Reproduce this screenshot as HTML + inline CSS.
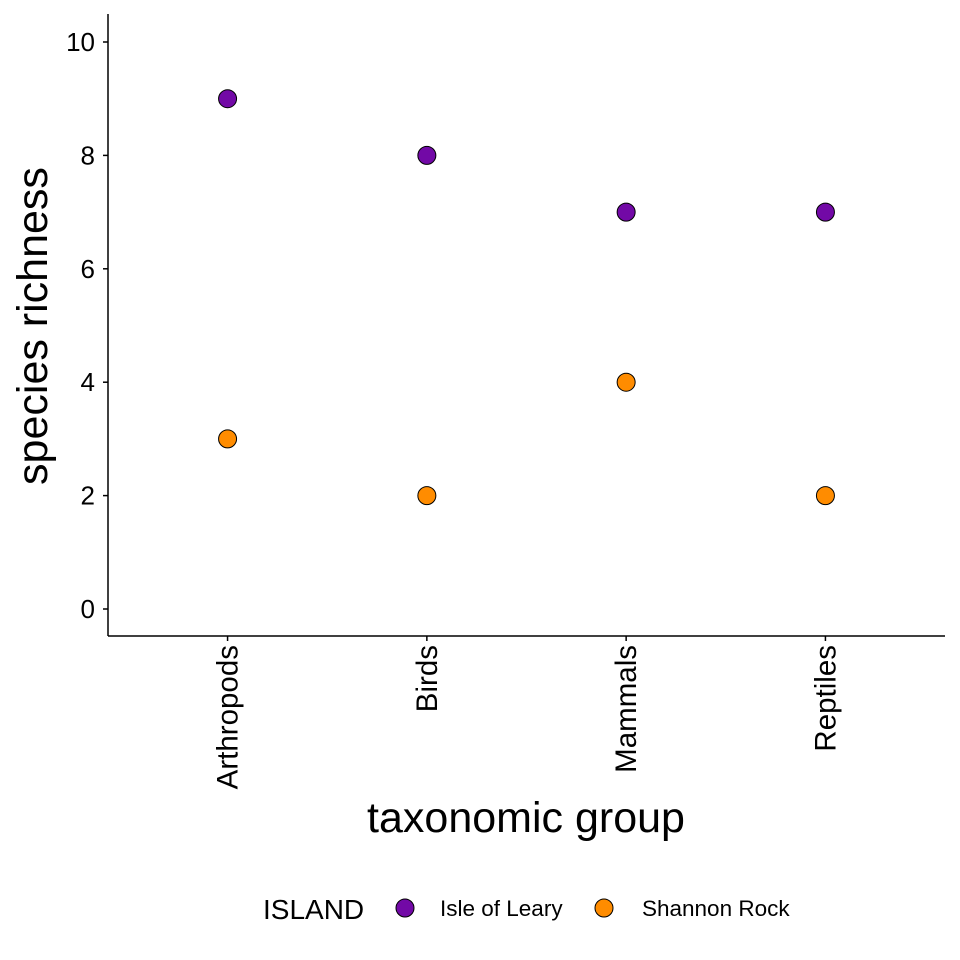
<!DOCTYPE html>
<html><head><meta charset="utf-8"><style>body{margin:0;background:#fff}svg{display:block;font-family:"Liberation Sans",Arial,sans-serif}</style></head>
<body>
<svg id="c" width="960" height="960" viewBox="0 0 960 960"></svg>
<script>
const categories = ["Arthropods","Birds","Mammals","Reptiles"];
const leary = [9,8,7,7];
const shannon = [3,2,4,2];
const yTicks = [0,2,4,6,8,10];
const seriesNames = ["Isle of Leary","Shannon Rock"];
const colors = ["#7209a6","#ff8c00"];
const NS="http://www.w3.org/2000/svg";
const svg=document.getElementById('c');
function el(t,a,txt){const e=document.createElementNS(NS,t);for(const k in a)e.setAttribute(k,a[k]);if(txt!==undefined)e.textContent=txt;svg.appendChild(e);return e;}
const x0=108,x1=945,yTop=14,yBot=636;
function y(v){return 609-(v/10)*567;}
function x(i){const step=(x1-x0)/(categories.length-1+1.2);return x0+step*(0.6+i);}
let e;
e=el('line',{x1:x0,y1:yTop,x2:x0,y2:yBot,stroke:'#000','stroke-width':1.5});


e=el('line',{x1:x0,y1:yBot,x2:x1,y2:yBot,stroke:'#000','stroke-width':1.5});


yTicks.forEach(v=>{
  e=el('line',{x1:x0-5,y1:y(v),x2:x0,y2:y(v),stroke:'#000','stroke-width':1.5});
  
  
  e=el('text',{x:x0-13,y:y(v)+9,'text-anchor':'end','font-size':26,fill:'#000'},v);
  
  
});
categories.forEach((c,i)=>{
  e=el('line',{x1:x(i),y1:yBot,x2:x(i),y2:yBot+5,stroke:'#000','stroke-width':1.5});
  
  
  e=el('text',{x:0,y:0,'text-anchor':'end','font-size':29.5,fill:'#000',transform:`translate(${x(i)+10},${yBot+9}) rotate(-90)`},c);
  
  
});
[leary,shannon].forEach((s,si)=>{
  s.forEach((v,i)=>{
    e=el('circle',{cx:x(i),cy:y(v),r:9,fill:colors[si],stroke:'#000','stroke-width':1});
    
    
  });
});
e=el('text',{x:0,y:0,'text-anchor':'middle','font-size':43,fill:'#000',transform:'translate(47,326) rotate(-90)'},'species richness');


e=el('text',{x:526,y:832,'text-anchor':'middle','font-size':43,fill:'#000'},'taxonomic group');


e=el('text',{x:263,y:919,'font-size':28,fill:'#000'},'ISLAND');


const lx=[405,604],tx=[440,642];
seriesNames.forEach((n,i)=>{
  e=el('circle',{cx:lx[i],cy:908,r:9,fill:colors[i],stroke:'#000','stroke-width':1});
  
  
  e=el('text',{x:tx[i],y:916,'font-size':22.5,fill:'#000'},n);
  
  
});
</script>
</body></html>
